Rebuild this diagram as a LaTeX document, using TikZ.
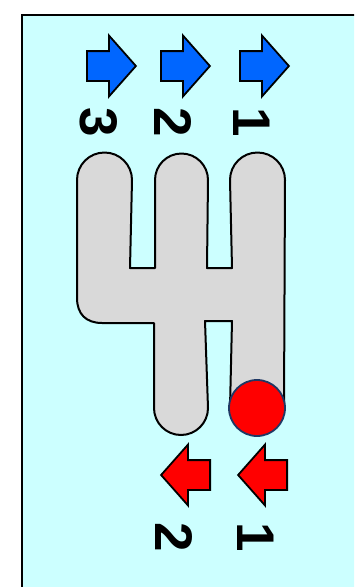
\documentclass[tikz,border=0pt]{standalone}
\usepackage{fontspec}
\setmainfont{Liberation Sans}
\usepackage{tikz}
\usetikzlibrary{shapes.arrows, shapes.geometric, positioning}
\definecolor{bgcyan}{HTML}{CCFFFF}
\definecolor{gategray}{HTML}{D9D9D9}
\definecolor{keyblue}{HTML}{0066FF}
\definecolor{keyred}{HTML}{FF0000}
\definecolor{knobnavy}{HTML}{1F3864}

\begin{document}
\begin{tikzpicture}[
        x=1pt, y=-1pt,
        keyarrow/.style={single arrow, draw=black, line width=1.8pt, inner xsep=0pt, inner ysep=14pt,
            minimum height=49pt, minimum width=59pt, single arrow head extend=15.5pt,
            single arrow tip angle=97, anchor=tail},
        upkey/.style={keyarrow, fill=keyblue},
        downkey/.style={keyarrow, fill=keyred, shape border rotate=180},
        gearno/.style={rotate=-90, inner sep=0pt, font=\fontsize{53}{53}\selectfont\bfseries},
        knob/.style={circle, draw=knobnavy, line width=1.8pt, fill=keyred, minimum size=56pt, inner sep=0pt},
        gate/.style={draw=black, line width=2pt, fill=gategray, line join=round}
    ]
        \useasboundingbox (0,0) rectangle (354,587);
        \clip (0,0) rectangle (354,587);

        % BACKGROUND PANEL
        \draw[line width=1.8pt, fill=bgcyan] (22,15) rectangle (380,610);

        % SHIFT GATE
        \draw[gate] (77,180) arc[start angle=180, end angle=360, radius=27.5]
            -- (130,268) -- (155,268) -- (155,180)
            arc[start angle=180, end angle=360, radius=26.5]
            -- (207,268) -- (232,268) -- (230,180)
            arc[start angle=180, end angle=360, radius=27.5]
            -- (284,408)
            arc[start angle=0, end angle=180, radius=27]
            -- (232,321) -- (205,321) -- (208,408)
            arc[start angle=0, end angle=180, radius=27]
            -- (154,323) -- (102,323)
            .. controls (86,323) and (77,314) .. (77,298) -- cycle;

        % KNOB
        \node[knob] (knob) at (257,408) {};

        % UPSHIFT KEYS
        \node[upkey] (up3) at (86,66) {};
        \node[upkey] (up2) at (160,66) {};
        \node[upkey] (up1) at (239,66) {};
        \node[gearno] (up3no) at (99,122) {3};
        \node[gearno] (up2no) at (173,122) {2};
        \node[gearno] (up1no) at (252,122) {1};

        % DOWNSHIFT KEYS
        \node[downkey] (down2) at (211,475) {};
        \node[downkey] (down1) at (288,475) {};
        \node[gearno] (down2no) at (174,537) {2};
        \node[gearno] (down1no) at (256,537) {1};
    \end{tikzpicture}
\end{document}
